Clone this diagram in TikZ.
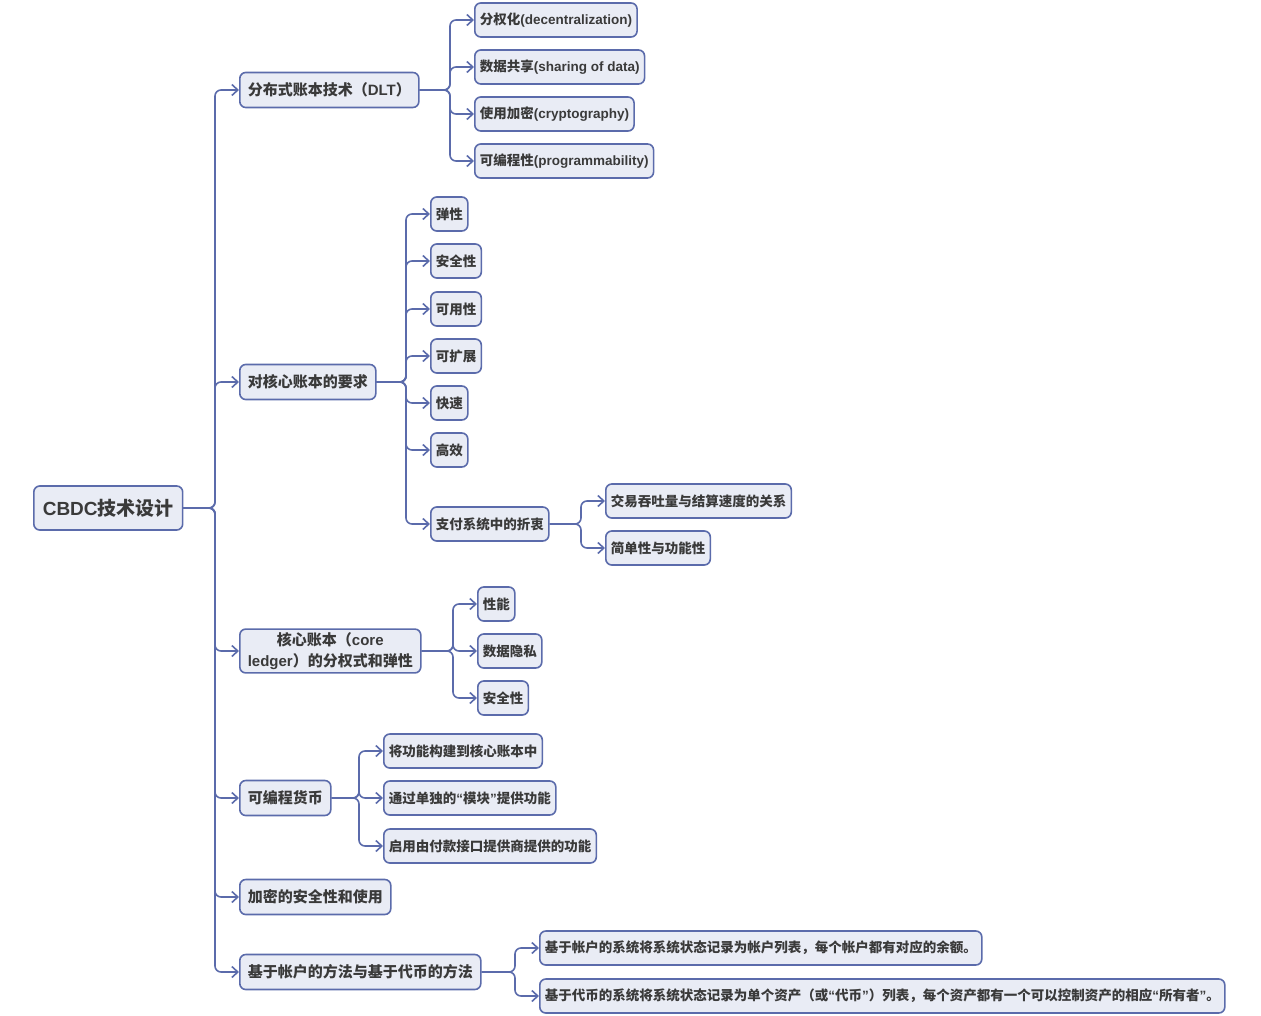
\documentclass[tikz,border=0pt]{standalone}
\usepackage{fontspec}
\setmainfont{Noto Sans CJK SC}
\newfontfamily\latin{Liberation Sans}
\usetikzlibrary{arrows.meta, positioning}
\definecolor{mapline}{HTML}{5B6BAB}
\definecolor{mapfill}{HTML}{E9ECF5}
\definecolor{maptext}{HTML}{3A3A3A}
\tikzset{
  topic/.style={draw=mapline, fill=mapfill, text=maptext, line width=1.6pt,
    rounded corners=6pt, inner xsep=5pt, minimum height=34pt, anchor=west,
    font=\bfseries\fontsize{13.5}{16}\selectfont},
  root/.style={topic, minimum height=44pt, inner xsep=9pt,
    font=\bfseries\fontsize{19}{22}\selectfont},
  main/.style={topic, minimum height=35pt, inner xsep=8pt,
    font=\bfseries\fontsize{15}{21}\selectfont},
  link/.style={draw=mapline, line width=1.6pt, rounded corners=6pt,
    -{Straight Barb[length=6pt,width=11pt]}}
}
\newcommand{\branch}[2]{\draw[link] (#1.east) -- ([xshift=-24pt]#2.west |- #1.east) |- (#2.west);}
\newcommand{\quoted}[1]{{\latin“}#1{\latin”}}

\begin{document}
\begin{tikzpicture}[x=1pt, y=-1pt]
\useasboundingbox (0,0) rectangle (1261,1016);
% root and main topics
\node[root] (cbdc) at (33,508) {{\latin CBDC}技术设计};
\node[main] (dlt) at (239,90) {分布式账本技术（{\latin DLT}）};
\node[main] (req) at (239,382) {对核心账本的要求};
\node[main, align=center] (core) at (239,651) {核心账本（{\latin core}\\{\latin ledger}）的分权式和弹性};
\node[main] (prog) at (239,798) {可编程货币};
\node[main] (cryp) at (239,897) {加密的安全性和使用};
\node[main] (meth) at (239,972) {基于帐户的方法与基于代币的方法};
% DLT
\node[topic] (dec) at (474,20) {分权化{\latin(decentralization)}};
\node[topic] (share) at (474,67) {数据共享{\latin(sharing of data)}};
\node[topic] (crypt) at (474,114) {使用加密{\latin(cryptography)}};
\node[topic] (progm) at (474,161) {可编程性{\latin(programmability)}};
% requirements
\node[topic] (resil) at (430,214) {弹性};
\node[topic] (safe) at (430,261) {安全性};
\node[topic] (avail) at (430,309) {可用性};
\node[topic] (scale) at (430,356) {可扩展};
\node[topic] (fast) at (430,403) {快速};
\node[topic] (effic) at (430,450) {高效};
\node[topic] (pay) at (430,524) {支付系统中的折衷};
\node[topic] (thru) at (605,501) {交易吞吐量与结算速度的关系};
\node[topic] (simple) at (605,548) {简单性与功能性};
% core ledger
\node[topic] (perf) at (477,604) {性能};
\node[topic] (priv) at (477,651) {数据隐私};
\node[topic] (secur) at (477,698) {安全性};
% programmable money
\node[topic] (build) at (383,751) {将功能构建到核心账本中};
\node[topic] (module) at (383,798) {通过单独的\quoted{模块}提供功能};
\node[topic] (pisp) at (383,846) {启用由付款接口提供商提供的功能};
% account vs token
\node[topic] (acct) at (539,948) {基于帐户的系统将系统状态记录为帐户列表，每个帐户都有对应的余额。};
\node[topic] (token) at (539,996) {基于代币的系统将系统状态记录为单个资产（或\quoted{代币}）列表，每个资产都有一个可以控制资产的相应\quoted{所有者}。};

% connectors
\branch{cbdc}{dlt} \branch{cbdc}{req} \branch{cbdc}{core}
\branch{cbdc}{prog} \branch{cbdc}{cryp} \branch{cbdc}{meth}
\branch{dlt}{dec} \branch{dlt}{share} \branch{dlt}{crypt} \branch{dlt}{progm}
\branch{req}{resil} \branch{req}{safe} \branch{req}{avail} \branch{req}{scale}
\branch{req}{fast} \branch{req}{effic} \branch{req}{pay}
\branch{pay}{thru} \branch{pay}{simple}
\branch{core}{perf} \branch{core}{priv} \branch{core}{secur}
\branch{prog}{build} \branch{prog}{module} \branch{prog}{pisp}
\branch{meth}{acct} \branch{meth}{token}
\end{tikzpicture}
\end{document}
